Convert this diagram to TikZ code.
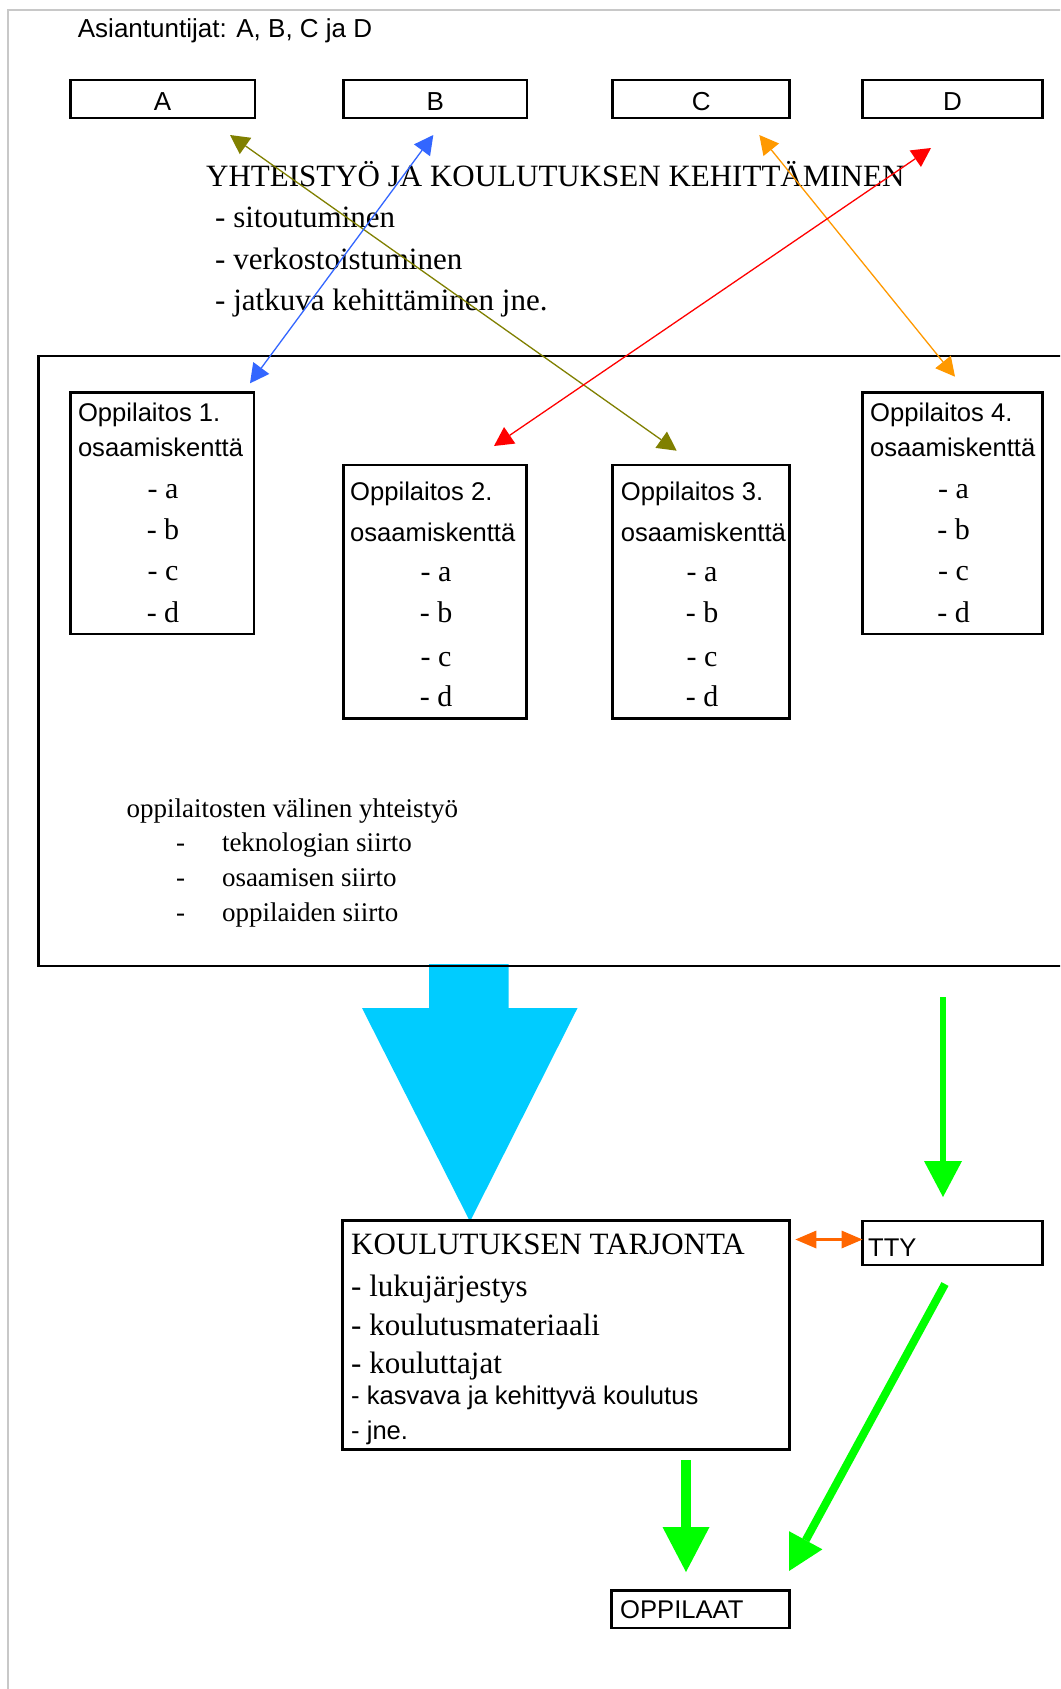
\documentclass[tikz,border=0pt]{standalone}
\usepackage{fontspec}
\setmainfont{Liberation Serif}
\newfontfamily\arialf{Liberation Sans}
\usetikzlibrary{arrows.meta,calc}
\definecolor{olivec}{HTML}{808000}
\definecolor{bluec}{HTML}{3366FF}
\definecolor{orangec}{HTML}{FF9900}
\definecolor{redc}{HTML}{FF0000}
\definecolor{cyanc}{HTML}{00CCFF}
\definecolor{greenc}{HTML}{00FF00}
\definecolor{orangetwo}{HTML}{FF6600}
\definecolor{framec}{HTML}{C8C8C8}
\begin{document}
\begin{tikzpicture}[x=1pt,y=-1pt,
  box/.style={draw=black,line width=2.8pt,inner sep=0pt,outer sep=0pt},
  expert/.style={box,minimum height=38pt,text height=22pt,text depth=0pt,font=\arialf\fontsize{26}{30}\selectfont},
  sans/.style={font=\arialf\fontsize{25.6}{30}\selectfont,inner sep=0pt,anchor=base west},
  serif/.style={font=\fontsize{31}{34}\selectfont,inner sep=0pt,anchor=base west},
  serifb/.style={font=\fontsize{31}{34}\selectfont,inner sep=0pt,anchor=base west},
  seriff/.style={font=\fontsize{27}{32}\selectfont,inner sep=0pt,anchor=base west},
  item/.style={font=\fontsize{30}{34}\selectfont,inner sep=0pt,anchor=base},
  thinarrow/.style={line width=1.3pt,{Triangle[length=19pt,width=20pt,line width=0pt]}-{Triangle[length=19pt,width=20pt,line width=0pt]}},
]
\useasboundingbox (0,0) rectangle (1060,1689);
\clip (0,0) rectangle (1060,1689);
\fill[white] (0,0) rectangle (1060,1689);
% page frame
\draw[framec,line width=2pt] (8,1700) -- (8,10) -- (1075,10);

% title
\node[sans,font=\arialf\fontsize{26}{30}\selectfont] (title) at (77.7,37) {Asiantuntijat: A, B, C ja D};

% experts
\node[expert,minimum width=184.7pt] (A) at (162.6,99) {A};
\node[expert,minimum width=183.5pt] (B) at (435.3,99) {B};
\node[expert,minimum width=177pt] (C) at (701.2,99) {C};
\node[expert,minimum width=180pt] (D) at (952.6,99) {D};

% heading
\node[serif] (head) at (206,186) {YHTEISTYÖ JA KOULUTUKSEN KEHITTÄMINEN};
\node[serif] (h1) at (215,227) {- sitoutuminen};
\node[serif] (h2) at (215,269) {- verkostoistuminen};
\node[serif] (h3) at (215,310) {- jatkuva kehittäminen jne.};

% big cyan block arrow
\fill[cyanc] (429,964) -- (508.5,964) -- (508.5,1008) -- (577.5,1008) -- (470,1221.5) -- (362,1008) -- (429,1008) -- cycle;

% big network box
\node[box,minimum width=1041.3pt,minimum height=610pt] (net) at (559.35,661) {};

% institutions
\node[box,minimum width=183.7pt,minimum height=241.7pt] (o1) at (162.2,513.2) {};
\node[box,minimum width=183.2pt,minimum height=253.7pt] (o2) at (435.1,591.9) {};
\node[box,minimum width=177.1pt,minimum height=253.7pt] (o3) at (701.2,591.9) {};
\node[box,minimum width=179.9pt,minimum height=241.7pt] (o4) at (952.6,513.2) {};

\node[sans] (o1t) at (77.8,421.7) {Oppilaitos 1.};
\node[sans] (o1s) at (77.8,456.7) {osaamiskenttä};
\node[item] (o1a) at (163,498.3) {- a};
\node[item] (o1b) at (163,539.3) {- b};
\node[item] (o1c) at (163,580.7) {- c};
\node[item] (o1d) at (163,622.7) {- d};

\node[sans] (o2t) at (350,500) {Oppilaitos 2.};
\node[sans] (o2s) at (350,541.7) {osaamiskenttä};
\node[item] (o2a) at (436,581.7) {- a};
\node[item] (o2b) at (436,622.7) {- b};
\node[item] (o2c) at (436,666) {- c};
\node[item] (o2d) at (436,706.7) {- d};

\node[sans] (o3t) at (620.7,500) {Oppilaitos 3.};
\node[sans] (o3s) at (620.7,541.7) {osaamiskenttä};
\node[item] (o3a) at (702,581.7) {- a};
\node[item] (o3b) at (702,622.7) {- b};
\node[item] (o3c) at (702,666) {- c};
\node[item] (o3d) at (702,706.7) {- d};

\node[sans] (o4t) at (870,421.7) {Oppilaitos 4.};
\node[sans] (o4s) at (870,456.7) {osaamiskenttä};
\node[item] (o4a) at (953.5,498.3) {- a};
\node[item] (o4b) at (953.5,539.3) {- b};
\node[item] (o4c) at (953.5,580.7) {- c};
\node[item] (o4d) at (953.5,622.7) {- d};

% cooperation text
\node[seriff] (coop) at (126.4,817) {oppilaitosten välinen yhteistyö};
\node[seriff] (d1) at (176,851.7) {-};
\node[seriff] (c1) at (221.8,851.7) {teknologian siirto};
\node[seriff] (d2) at (176,886.7) {-};
\node[seriff] (c2) at (221.8,886.7) {osaamisen siirto};
\node[seriff] (d3) at (176,921.7) {-};
\node[seriff] (c3) at (221.8,921.7) {oppilaiden siirto};

% training offer
\node[box,minimum width=446.9pt,minimum height=228.6pt] (kt) at (566.15,1335) {};
\node[serif] (kt0) at (351,1254) {KOULUTUKSEN TARJONTA};
\node[serifb] (kt1) at (351,1296.7) {- lukujärjestys};
\node[serifb] (kt2) at (351,1335) {- koulutusmateriaali};
\node[serifb] (kt3) at (351,1373.3) {- kouluttajat};
\node[sans] (kt4) at (351,1404) {- kasvava ja kehittyvä koulutus};
\node[sans] (kt5) at (351,1439.3) {- jne.};

\node[box,minimum width=180.2pt,minimum height=44pt] (tty) at (952.6,1243) {};
\node[sans] (ttyt) at (868,1256.7) {TTY};

\node[box,minimum width=177.8pt,minimum height=37.5pt] (opp) at (700.7,1609.25) {};
\node[sans] (oppt) at (620,1618.3) {OPPILAAT};

% thin double arrows
\coordinate (olA) at (230,135);
\coordinate (olO) at (676.7,450.7);
\coordinate (blB) at (433.3,135);
\coordinate (blO) at (250,383.3);
\coordinate (orC) at (759.3,135);
\coordinate (orO) at (955,376.7);
\coordinate (rdD) at (931,148);
\coordinate (rdO) at (494,446);
\draw[olivec,thinarrow] (olA) -- (olO);
\draw[bluec,thinarrow] (blB) -- (blO);
\draw[orangec,thinarrow] (orC) -- (orO);
\draw[redc,thinarrow] (rdD) -- (rdO);

% orange double arrow KT <-> TTY
\coordinate (okt) at (795.4,1239.5);
\coordinate (otty) at (tty.west |- okt);
\draw[orangetwo,line width=3pt,{Triangle[length=21pt,width=18pt,line width=0pt]}-{Triangle[length=21pt,width=18pt,line width=0pt]}] (okt) -- (otty);

% green arrows
\coordinate (g1s) at (943,997);
\coordinate (g1e) at (943,1197);
\draw[greenc,line width=6pt,-{Triangle[length=36pt,width=38pt,line width=0pt]}] (g1s) -- (g1e);
\coordinate (g2s) at (686,1460);
\coordinate (g2e) at (686,1572);
\draw[greenc,line width=10pt,-{Triangle[length=45pt,width=47pt,line width=0pt]}] (g2s) -- (g2e);
\coordinate (g3s) at (945,1284);
\coordinate (g3e) at (789,1571);
\draw[greenc,line width=8pt,-{Triangle[length=35pt,width=38pt,line width=0pt]}] (g3s) -- (g3e);
\end{tikzpicture}
\end{document}
